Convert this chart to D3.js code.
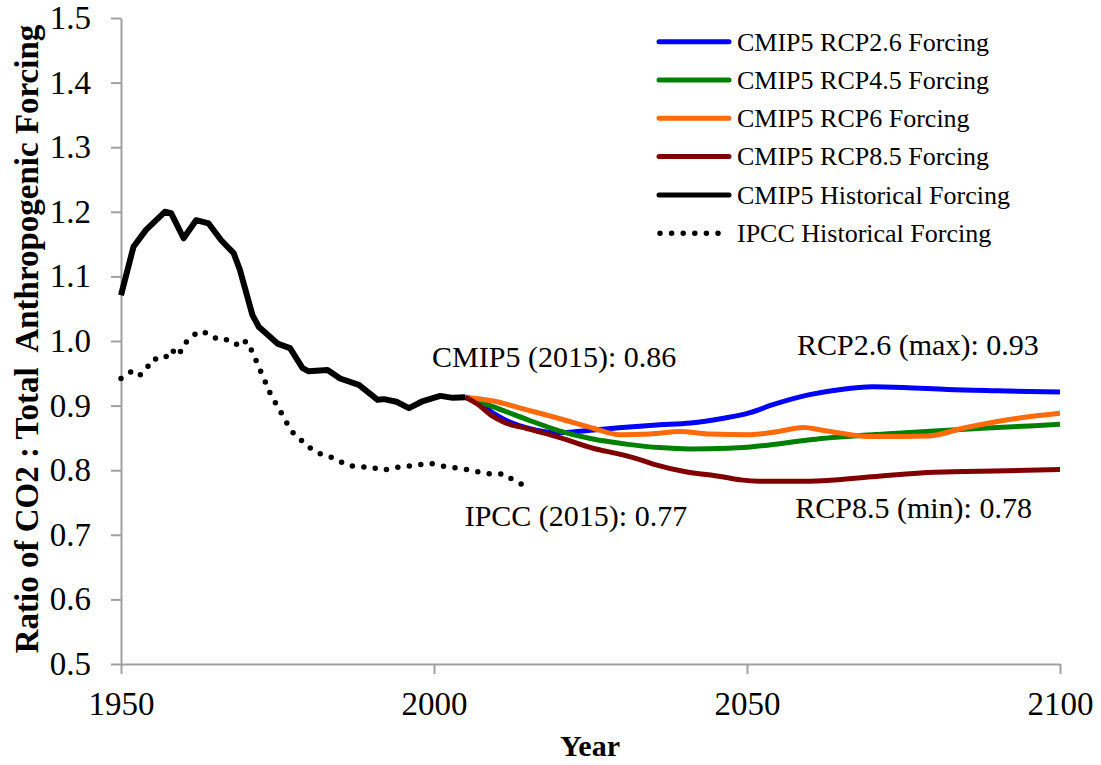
<!DOCTYPE html>
<html>
<head>
<meta charset="utf-8">
<script src="https://cdn.jsdelivr.net/npm/d3@7"></script>
<style>
  html, body { margin: 0; padding: 0; background: #fff; }
  svg { display: block; }
  text { font-family: "Liberation Serif", "Times New Roman", serif; fill: #000; }
</style>
</head>
<body>
<svg id="chart" width="1101" height="765"></svg>
<script>
// ---- Data ----
const histYears  = [1950,1952,1954,1957,1958,1960,1962,1964,1966,1968,1969,1971,1972,1975,1977,1979,1980,1983,1985,1988,1991,1992,1994,1996,1998,2001,2003,2005];
const histValues = [1.071,1.146,1.172,1.200,1.198,1.159,1.187,1.182,1.156,1.136,1.110,1.040,1.022,0.996,0.989,0.958,0.953,0.955,0.942,0.932,0.909,0.910,0.906,0.896,0.906,0.915,0.912,0.913];

const ipccYears  = [1950,1951.7,1952.9,1954,1955,1957,1958,1959.2,1960,1961,1962.3,1964,1965.5,1967.5,1969,1970,1971,1972,1973,1974,1975,1976,1977,1978,1979.4,1980.7,1982.5,1984.3,1986,1988,1990,1991.4,1993,1995,1997,1999,2000.4,2002,2004,2006,2008,2010,2011.3,2013,2015];
const ipccValues = [0.942,0.953,0.946,0.956,0.972,0.973,0.987,0.977,0.995,1.003,1.015,1.012,1.002,1.002,0.991,1.000,0.983,0.960,0.938,0.915,0.899,0.882,0.864,0.852,0.842,0.830,0.823,0.818,0.808,0.805,0.805,0.800,0.802,0.806,0.807,0.811,0.809,0.805,0.803,0.800,0.795,0.794,0.794,0.782,0.775];

const rcp26Years  = [2005,2007,2009.5,2012,2015,2019.6,2025,2030,2035.6,2041,2046,2050.5,2054,2060,2065,2070,2075,2082,2090,2100];
const rcp26Values = [0.913,0.905,0.888,0.875,0.865,0.858,0.862,0.866,0.870,0.873,0.880,0.889,0.901,0.917,0.925,0.929,0.928,0.925,0.923,0.921];

const rcp45Years  = [2005,2009.5,2015,2020,2025,2031,2036,2041,2047,2050.5,2061,2072,2082,2090,2100];
const rcp45Values = [0.913,0.898,0.878,0.861,0.849,0.840,0.835,0.833,0.834,0.836,0.848,0.856,0.862,0.866,0.871];

const rcp6Years  = [2005,2009.5,2015,2020,2025.4,2029.7,2034.5,2039.3,2044,2050.5,2055,2059,2062,2070,2079,2084.5,2093,2100];
const rcp6Values = [0.913,0.907,0.893,0.880,0.865,0.855,0.856,0.860,0.856,0.855,0.860,0.866,0.862,0.852,0.853,0.865,0.880,0.888];

const rcp85Years  = [2005,2007,2009,2011,2015,2019.6,2025.4,2030,2033,2035.6,2040,2046,2049,2052,2060,2070,2080,2091.5,2100];
const rcp85Values = [0.913,0.902,0.886,0.875,0.864,0.852,0.834,0.824,0.816,0.808,0.798,0.790,0.785,0.783,0.783,0.790,0.797,0.799,0.801];

const seriesNames  = ["CMIP5 RCP2.6 Forcing","CMIP5 RCP4.5 Forcing","CMIP5 RCP6 Forcing","CMIP5 RCP8.5 Forcing","CMIP5 Historical Forcing","IPCC Historical Forcing"];
const seriesColors = ["#0000ff","#008000","#ff6a0a","#800000","#000000","#000000"];

const xTicks = [1950,2000,2050,2100];
const yTicks = [0.5,0.6,0.7,0.8,0.9,1.0,1.1,1.2,1.3,1.4,1.5];

const annotations = [
  {text:"CMIP5 (2015): 0.86", year:1999.7, value:0.9605},
  {text:"RCP2.6 (max): 0.93", year:2058.0, value:0.979},
  {text:"IPCC (2015): 0.77",  year:2004.9, value:0.7135},
  {text:"RCP8.5 (min): 0.78", year:2057.7, value:0.726}
];

// ---- Chart ----
const svg = d3.select("#chart");
const x = d3.scaleLinear().domain([1950,2100]).range([121,1060]);
const y = d3.scaleLinear().domain([0.5,1.5]).range([664,18]);

const axisColor = "#a0a0a0";

const gx = svg.append("g").attr("transform","translate(0,664)")
  .call(d3.axisBottom(x).tickValues(xTicks).tickFormat(d3.format("d")).tickSize(10).tickSizeOuter(0).tickPadding(18));
const gy = svg.append("g").attr("transform","translate(121,0)")
  .call(d3.axisLeft(y).tickValues(yTicks).tickFormat(d3.format(".1f")).tickSize(10).tickSizeOuter(0).tickPadding(20));
[gx,gy].forEach(g => {
  g.select(".domain").attr("stroke",axisColor).attr("stroke-width",2);
  g.selectAll(".tick line").attr("stroke",axisColor).attr("stroke-width",2);
  g.selectAll(".tick text").attr("font-family","Liberation Serif, serif").attr("font-size",33).attr("fill","#000");
});

// axis titles
svg.append("text").attr("x",590).attr("y",756).attr("text-anchor","middle")
  .attr("font-size",30).attr("font-weight","bold").text("Year");
svg.append("text").attr("transform","translate(38,339) rotate(-90)").attr("text-anchor","middle")
  .attr("font-size",33).attr("font-weight","bold").attr("xml:space","preserve")
  .text("Ratio of CO2 : Total  Anthropogenic Forcing");

// lines
function toPts(ys, vs){ return ys.map((yr,i)=>[yr, vs[i]]); }
const lineGen = d3.line().x(d=>x(d[0])).y(d=>y(d[1]));
const smoothGen = d3.line().x(d=>x(d[0])).y(d=>y(d[1])).curve(d3.curveMonotoneX);

const plot = svg.append("g");
// IPCC dotted
plot.append("path").datum(toPts(ipccYears, ipccValues))
  .attr("d", lineGen).attr("fill","none").attr("stroke","#000")
  .attr("stroke-width",5.5).attr("stroke-linecap","round").attr("stroke-dasharray","0,11.6");

const proj = [
  [rcp26Years, rcp26Values, seriesColors[0]],
  [rcp45Years, rcp45Values, seriesColors[1]],
  [rcp6Years,  rcp6Values,  seriesColors[2]],
  [rcp85Years, rcp85Values, seriesColors[3]]
];
proj.forEach(([ys,vs,c]) => {
  plot.append("path").datum(toPts(ys,vs)).attr("d", smoothGen)
    .attr("fill","none").attr("stroke",c).attr("stroke-width",5).attr("stroke-linejoin","round");
});
plot.append("path").datum(toPts(histYears, histValues)).attr("d", lineGen)
  .attr("fill","none").attr("stroke","#000").attr("stroke-width",6).attr("stroke-linejoin","round");

// annotations
annotations.forEach(a => {
  svg.append("text").attr("x", x(a.year)).attr("y", y(a.value))
    .attr("font-size",30).text(a.text);
});

// legend
const legendY0 = 41.7, legendStep = 38.3;
const lg = svg.append("g");
seriesNames.forEach((name,i) => {
  const yy = legendY0 + i*legendStep;
  const ln = lg.append("line").attr("x1",659).attr("x2",729).attr("y1",yy).attr("y2",yy)
    .attr("stroke",seriesColors[i]).attr("stroke-linecap","round");
  if (i === 5) ln.attr("stroke-width",5.5).attr("stroke-dasharray","0,11.6").attr("x1",660).attr("x2",720);
  else ln.attr("stroke-width",5);
  lg.append("text").attr("x",737).attr("y",yy).attr("dy","0.34em").attr("font-size",26).text(name);
});
</script>
</body>
</html>
